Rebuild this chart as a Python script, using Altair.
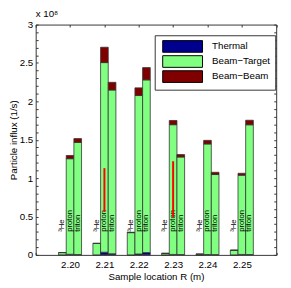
import altair as alt
import pandas as pd

# ---- data (values in units of 1e8 particles/s) ----
R = [2.20, 2.21, 2.22, 2.23, 2.24, 2.25]
species = ["³He", "proton", "triton"]
components = ["Thermal", "Beam−Target", "Beam−Beam"]
colors = ["#00008F", "#80FF80", "#800000"]

he3_thermal = [0.0, 0.0, 0.0, 0.0, 0.0, 0.0]
he3_bt = [0.03, 0.15, 0.29, 0.02, 0.01, 0.06]
he3_bb = [0.0, 0.0, 0.005, 0.0, 0.0, 0.003]

proton_thermal = [0.008, 0.035, 0.012, 0.006, 0.005, 0.006]
proton_bt = [1.245, 2.47, 2.064, 1.69, 1.44, 1.032]
proton_bb = [0.042, 0.20, 0.10, 0.055, 0.047, 0.025]

triton_thermal = [0.005, 0.015, 0.03, 0.005, 0.004, 0.005]
triton_bt = [1.46, 2.133, 2.25, 1.27, 1.043, 1.69]
triton_bb = [0.05, 0.10, 0.16, 0.032, 0.029, 0.059]

err_R = [2.21, 2.23]
err_lo = [0.56, 0.49]
err_hi = [1.13, 1.22]

label_y = 0.30
bar_w = 0.00223

series = {
    "³He": [he3_thermal, he3_bt, he3_bb],
    "proton": [proton_thermal, proton_bt, proton_bb],
    "triton": [triton_thermal, triton_bt, triton_bb],
}

rows = []
label_rows = []
for i, r in enumerate(R):
    for k, sp in enumerate(species):
        xc = r + (k - 1) * bar_w
        base = 0.0
        for c, comp in enumerate(components):
            v = series[sp][c][i]
            rows.append({"x0": xc - bar_w / 2, "x1": xc + bar_w / 2,
                         "y0": base, "y1": base + v, "component": comp})
            base += v
        label_rows.append({"xc": xc, "species": sp})

bars_df = pd.DataFrame(rows)
labels_df = pd.DataFrame(label_rows)
err_df = pd.DataFrame({"R": err_R, "lo": err_lo, "hi": err_hi})

FONT = "Liberation Sans"
AX = "#333333"
xscale = alt.Scale(domain=[2.19, 2.26], nice=False, zero=False)
yscale = alt.Scale(domain=[0, 3], nice=False, zero=True)
minor_y = [round(i * 0.1, 1) for i in range(31)]
minor_x = [round(2.19 + i * 0.01, 2) for i in range(8)]

def tick_axis(orient, vals):
    return alt.Axis(orient=orient, offset=-2.5, tickSize=2.5, labels=False,
                    domain=False, grid=False, values=vals, title=None,
                    tickColor=AX, tickWidth=1)

bars = alt.Chart(bars_df).mark_rect(stroke=AX, strokeWidth=0.8).encode(
    x=alt.X("x0:Q", scale=xscale,
            axis=alt.Axis(orient="bottom", values=R, format=".2f", ticks=False,
                          domain=False, grid=False, labelPadding=5,
                          title="Sample location R (m)", titlePadding=2)),
    x2="x1:Q",
    y=alt.Y("y0:Q", scale=yscale,
            axis=alt.Axis(orient="left", values=[0, 0.5, 1, 1.5, 2, 2.5, 3],
                          format="~g", ticks=False, domain=False, grid=False,
                          labelPadding=3, title="Particle influx (1/s)",
                          titlePadding=1)),
    y2="y1:Q",
    color=alt.Color("component:N", scale=alt.Scale(domain=components, range=colors),
                    legend=alt.Legend(orient="none", legendX=122.5, legendY=11,
                                      title=None, direction="vertical",
                                      symbolType="M-0.55,-1H6.28V1H-0.55Z",
                                      symbolSize=144, symbolStrokeColor="black",
                                      symbolStrokeWidth=1, symbolOpacity=1,
                                      labelOffset=41, labelFontSize=10,
                                      labelFont=FONT, labelColor="black",
                                      labelFontWeight="normal",
                                      padding=5, rowPadding=-1.5, labelLimit=200,
                                      strokeColor=AX, fillColor="white")),
)

labels = alt.Chart(labels_df).mark_text(angle=270, align="left", baseline="middle",
                                        fontSize=8, font=FONT, color="black").encode(
    x=alt.X("xc:Q", scale=xscale, axis=tick_axis("bottom", minor_x)),
    y=alt.YDatum(label_y, type="quantitative", scale=yscale,
                 axis=tick_axis("left", minor_y)),
    text="species:N",
)

rules = alt.Chart(err_df).mark_rule(color="#FF0000", strokeWidth=2).encode(
    x=alt.X("R:Q", scale=xscale, axis=tick_axis("top", minor_x)),
    y=alt.Y("lo:Q", scale=yscale, axis=tick_axis("right", minor_y)),
    y2="hi:Q",
)

chart = alt.layer(bars, labels, rules).resolve_axis(
    x="independent", y="independent"
).properties(
    width=247.5, height=237,
    autosize=alt.AutoSizeParams(type="none"),
    padding={"left": 28.5, "top": 13, "right": 7, "bottom": 30},
    title=alt.TitleParams("x 10⁸", anchor="start", frame="group", fontSize=10,
                          font=FONT, fontWeight="normal", color="black", offset=1),
).configure_view(stroke=AX, strokeWidth=1).configure_axis(
    labelFont=FONT, labelFontSize=10, labelColor="black",
    titleFont=FONT, titleFontSize=10, titleFontWeight="normal", titleColor="black",
)

chart.save("out.html", embed_options={"renderer": "svg", "actions": False})
